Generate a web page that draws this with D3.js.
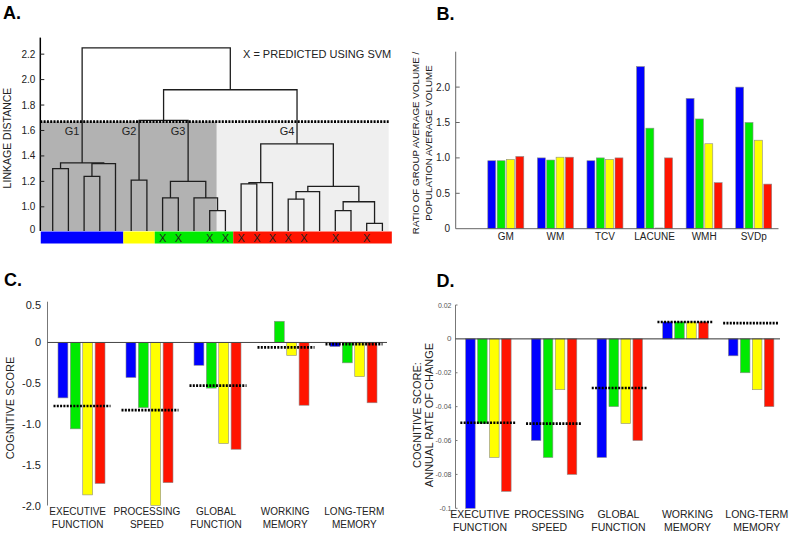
<!DOCTYPE html>
<html><head><meta charset="utf-8">
<script src="https://cdn.jsdelivr.net/npm/d3@7"></script>
<style>body{margin:0;background:#fff} svg{display:block;font-family:"Liberation Sans",Arial,Helvetica,sans-serif}</style>
</head><body><svg id="c" width="789" height="533"></svg>
<script>
// ================= DATA =================
const seriesNames = ["blue","green","yellow","red"];
const seriesColors = ["#0000ff","#00ea00","#ffff00","#ff1400"];

// Panel A: hierarchical clustering dendrogram
const clusterNames = ["G1","G2","G3","G4"];
const clusterLeafCounts = [5,2,5,10];
const clusterColors = ["#0000ff","#ffff00","#00ea00","#ff1400"];
const svmPredictedLeaves = [7,8,10,11,12,13,14,15,16,18,20];
const leafBaseline = 0.81;
// merges: [left node, right node, linkage distance]; leaves are 0..21, merges numbered from 22
const merges = [
  [0,1,1.30],[2,3,1.24],[23,4,1.34],[22,24,1.345],      // G1 -> node 25
  [5,6,1.21],                                           // G2 -> node 26
  [7,8,1.07],[10,11,0.97],[9,28,1.07],[27,29,1.20],     // G3 -> node 30
  [12,13,1.18],[31,14,1.19],[15,16,1.06],[33,17,1.12],
  [18,19,0.97],[20,21,0.87],[35,36,1.04],[34,37,1.16],[32,38,1.495], // G4 -> node 39
  [26,30,1.68],[40,39,1.92],[25,41,2.25]
];
const clusterTopNodes = [25,26,30,39];
const cutHeight = 1.67;
const darkShadeEndLeaf = 10.45;
const linkTicks = [1.0,1.2,1.4,1.6,1.8,2.0,2.2];
const linkTickLabels = ["1.0","1.2","1.4","1.6","1.8","2.0","2.2"];

// Panel B: volume ratios
const volCats = ["GM","WM","TCV","LACUNE","WMH","SVDp"];
const volBlue   = [0.96,1.00,0.96,2.29,1.84,2.00];
const volGreen  = [0.96,0.97,1.00,1.42,1.55,1.50];
const volYellow = [0.98,1.01,0.98,0.01,1.20,1.25];
const volRed    = [1.02,1.01,1.00,1.00,0.65,0.63];
const volTicks = [0,0.5,1.0,1.5,2.0];
const volTickLabels = ["0","0.5","1.0","1.5","2.0"];

// Panel C: cognitive scores
const cogCats = [["EXECUTIVE","FUNCTION"],["PROCESSING","SPEED"],["GLOBAL","FUNCTION"],["WORKING","MEMORY"],["LONG-TERM","MEMORY"]];
const cogBlue   = [-0.68,-0.43,-0.28,0.00,-0.05];
const cogGreen  = [-1.06,-0.80,-0.56,0.26,-0.25];
const cogYellow = [-1.87,-2.00,-1.24,-0.16,-0.42];
const cogRed    = [-1.73,-1.72,-1.31,-0.77,-0.74];
const cogMean   = [-0.78,-0.83,-0.53,-0.06,-0.02];
const cogTicks = [0.5,0,-0.5,-1.0,-1.5,-2.0];
const cogTickLabels = ["0.5","0","-0.5","-1.0","-1.5","-2.0"];

// Panel D: annual rate of change
const rateBlue   = [-0.10,-0.06,-0.07,0.01,-0.01];
const rateGreen  = [-0.05,-0.07,-0.04,0.01,-0.02];
const rateYellow = [-0.07,-0.03,-0.05,0.01,-0.03];
const rateRed    = [-0.09,-0.08,-0.06,0.01,-0.04];
const rateMean   = [-0.0495,-0.05,-0.029,0.01,0.0093];
const rateTicks = [0.02,0,-0.02,-0.04,-0.06,-0.08,-0.1];
const rateTickLabels = ["0.02","0","-0.02","-0.04","-0.06","-0.08","-0.1"];

// ================= DRAW =================
const svg = d3.select("#c");
function panelLetter(t,x,y){svg.append("text").attr("x",x).attr("y",y).attr("font-size",18).attr("font-weight","bold").text(t);}

// ---------- Panel A ----------
(function(){
  const g = svg.append("g");
  const nLeaves = d3.sum(clusterLeafCounts);
  const xL = d3.scaleLinear().domain([0,nLeaves-1]).range([52.7,382.4]);
  const y = d3.scaleLinear().domain([leafBaseline,2.33]).range([231,37.6]);
  const axX = 40.3;
  // shading
  g.append("rect").attr("x",axX).attr("y",y(cutHeight)).attr("width",xL(darkShadeEndLeaf)-axX)
    .attr("height",y(leafBaseline)-y(cutHeight)).attr("fill","#b2b2b2");
  g.append("rect").attr("x",xL(darkShadeEndLeaf)).attr("y",y(cutHeight)).attr("width",xL(21.4)-xL(darkShadeEndLeaf))
    .attr("height",y(leafBaseline)-y(cutHeight)).attr("fill","#efefef");
  // nodes
  const nodes = d3.range(nLeaves).map(i=>({x:xL(i),h:leafBaseline}));
  merges.forEach(([a,b,h])=>{
    const A=nodes[a],B=nodes[b];
    g.append("path").attr("d",`M${A.x},${y(A.h)}V${y(h)}H${B.x}V${y(B.h)}`)
      .attr("fill","none").attr("stroke","#1e1e1e").attr("stroke-width",1.3);
    nodes.push({x:(A.x+B.x)/2,h:h});
  });
  // cut line
  g.append("line").attr("x1",axX).attr("x2",xL(21.4)).attr("y1",y(cutHeight)).attr("y2",y(cutHeight))
    .attr("stroke","#000").attr("stroke-width",2.6).attr("stroke-dasharray","2,1.3");
  // cluster labels
  clusterTopNodes.forEach((n,i)=>{
    g.append("text").attr("x",nodes[n].x-10).attr("y",y(cutHeight)+13).attr("text-anchor","middle")
      .attr("font-size",11).attr("fill","#222").text(clusterNames[i]);
  });
  // colour bar
  let start=0;
  clusterLeafCounts.forEach((c,i)=>{
    const a = i===0 ? xL(-0.76) : xL(start-0.5);
    const b = i===clusterLeafCounts.length-1 ? xL(start+c-1+0.6) : xL(start+c-0.5);
    g.append("rect").attr("x",a).attr("y",231.5).attr("width",b-a).attr("height",12).attr("fill",clusterColors[i]);
    start+=c;
  });
  svmPredictedLeaves.forEach(i=>{
    g.append("text").attr("x",xL(i)).attr("y",241.5).attr("text-anchor","middle").attr("font-size",11)
      .attr("fill","#222").text("X");
  });
  // axis
  g.append("line").attr("x1",axX).attr("x2",axX).attr("y1",37.6).attr("y2",231).attr("stroke","#000").attr("stroke-width",1.5);
  linkTicks.forEach((v,i)=>{
    g.append("line").attr("x1",axX).attr("x2",axX+4).attr("y1",y(v)).attr("y2",y(v)).attr("stroke","#222");
    g.append("text").attr("x",axX-5).attr("y",y(v)+3.5).attr("text-anchor","end").attr("font-size",10).attr("fill","#222").text(linkTickLabels[i]);
  });
  g.append("text").attr("x",axX-5).attr("y",y(0.825)+3.5).attr("text-anchor","end").attr("font-size",10).attr("fill","#222").text("0");
  g.append("text").attr("transform","translate(11,138) rotate(-90)").attr("text-anchor","middle").attr("font-size",10.5).attr("fill","#222").text("LINKAGE DISTANCE");
  g.append("text").attr("x",243).attr("y",58).attr("font-size",11).attr("fill","#222").text("X = PREDICTED USING SVM");
  panelLetter("A.",3,18.5);
})();

// generic grouped bar helper
function groupedBars(g, n, series, x0, inner, y){
  series.forEach((vals,s)=>{
    vals.forEach((v,i)=>{
      const x = x0(i)+inner(seriesNames[s]);
      g.append("rect").attr("x",x).attr("width",inner.bandwidth())
        .attr("y",Math.min(y(v),y(0))).attr("height",Math.abs(y(v)-y(0)))
        .attr("fill",seriesColors[s]).attr("stroke","#8c8c8c").attr("stroke-width",0.6);
    });
  });
}

// ---------- Panel B ----------
(function(){
  const g = svg.append("g");
  const x0 = d3.scaleBand().domain(d3.range(volCats.length)).range([481,778.5]);
  const inner = d3.scaleBand().domain(seriesNames).range([0,36]).paddingInner(0.15);
  const xs = i=>x0(i)+(x0.bandwidth()-36)/2;
  const y = d3.scaleLinear().domain([0,2.5]).range([228.7,51.7]);
  groupedBars(g, volCats.length, [volBlue,volGreen,volYellow,volRed], xs, inner, y);
  g.append("line").attr("x1",455.7).attr("x2",455.7).attr("y1",51.7).attr("y2",228.7).attr("stroke","#666").attr("stroke-width",1);
  g.append("line").attr("x1",455.7).attr("x2",778.5).attr("y1",228.7).attr("y2",228.7).attr("stroke","#666").attr("stroke-width",1);
  volTicks.forEach((v,i)=>{
    if(v!==0) g.append("line").attr("x1",455.7).attr("x2",459.7).attr("y1",y(v)).attr("y2",y(v)).attr("stroke","#666");
    g.append("text").attr("x",450).attr("y",y(v)+3.5).attr("text-anchor","end").attr("font-size",10).attr("fill","#222").text(volTickLabels[i]);
  });
  volCats.forEach((c,i)=>{
    g.append("text").attr("x",x0(i)+x0.bandwidth()/2).attr("y",240).attr("text-anchor","middle").attr("font-size",10).attr("fill","#222").text(c);
  });
  const t = g.append("text").attr("transform","translate(0,143) rotate(-90)").attr("text-anchor","middle").attr("font-size",9.8).attr("fill","#222");
  t.append("tspan").attr("x",0).attr("y",419).text("RATIO OF GROUP AVERAGE VOLUME /");
  t.append("tspan").attr("x",0).attr("y",432).text("POPULATION AVERAGE VOLUME");
  panelLetter("B.",436.5,19.5);
})();

// ---------- Panel C ----------
(function(){
  const g = svg.append("g");
  const x0 = d3.scaleBand().domain(d3.range(cogCats.length)).range([47.5,387.5]);
  const inner = d3.scaleBand().domain(seriesNames).range([0,47]).paddingInner(0.2);
  const xs = i=>x0(i)+(x0.bandwidth()-47)/2;
  const xl = d3.scalePoint().domain(d3.range(cogCats.length)).range([77.7,354.3]);
  const y = d3.scaleLinear().domain([-2,0.5]).range([505.5,301.7]);
  groupedBars(g, cogCats.length, [cogBlue,cogGreen,cogYellow,cogRed], xs, inner, y);
  g.append("line").attr("x1",47.5).attr("x2",47.5).attr("y1",301.7).attr("y2",505.5).attr("stroke","#777");
  g.append("line").attr("x1",47.5).attr("x2",387).attr("y1",y(0)).attr("y2",y(0)).attr("stroke","#444").attr("stroke-width",1);
  cogMean.forEach((m,i)=>{
    const c = x0(i)+x0.bandwidth()/2;
    g.append("line").attr("x1",c-28).attr("x2",c+29).attr("y1",y(m)).attr("y2",y(m))
      .attr("stroke","#000").attr("stroke-width",2.6).attr("stroke-dasharray","2,1.3");
  });
  cogTicks.forEach((v,i)=>{
    g.append("text").attr("x",41).attr("y",Math.max(y(v),305)+4).attr("text-anchor","end").attr("font-size",11).attr("fill","#222").text(cogTickLabels[i]);
  });
  cogCats.forEach((c,i)=>{
    c.forEach((line,k)=>g.append("text").attr("x",xl(i)).attr("y",515+k*12.5).attr("text-anchor","middle").attr("font-size",10).attr("fill","#222").text(line));
  });
  g.append("text").attr("transform","translate(14,408) rotate(-90)").attr("text-anchor","middle").attr("font-size",11).attr("fill","#222").text("COGNITIVE SCORE");
  panelLetter("C.",4,285.5);
})();

// ---------- Panel D ----------
(function(){
  const g = svg.append("g");
  const x0 = d3.scaleBand().domain(d3.range(cogCats.length)).range([455.5,784]);
  const inner = d3.scaleBand().domain(seriesNames).range([0,45.5]).paddingInner(0.2);
  const xs = i=>x0(i)+(x0.bandwidth()-45.5)/2;
  const xl = d3.scalePoint().domain(d3.range(cogCats.length)).range([480,756.8]);
  const y = d3.scaleLinear().domain([-0.1,0.02]).range([508.3,305]);
  groupedBars(g, cogCats.length, [rateBlue,rateGreen,rateYellow,rateRed], xs, inner, y);
  g.append("line").attr("x1",455.5).attr("x2",455.5).attr("y1",305).attr("y2",508.3).attr("stroke","#777");
  g.append("line").attr("x1",455.5).attr("x2",780).attr("y1",y(0)).attr("y2",y(0)).attr("stroke","#333").attr("stroke-width",1);
  rateMean.forEach((m,i)=>{
    const c = x0(i)+x0.bandwidth()/2;
    g.append("line").attr("x1",Math.max(455.5,c-28)).attr("x2",c+28).attr("y1",y(m)).attr("y2",y(m))
      .attr("stroke","#000").attr("stroke-width",2.6).attr("stroke-dasharray","2,1.3");
  });
  rateTicks.forEach((v,i)=>{
    if(v!==0) g.append("line").attr("x1",455.5).attr("x2",457.5).attr("y1",y(v)).attr("y2",y(v)).attr("stroke","#777");
    g.append("text").attr("x",451.5).attr("y",y(v)+2.5).attr("text-anchor","end").attr("font-size",v===0?8:7).attr("fill","#555").text(rateTickLabels[i]);
  });
  cogCats.forEach((c,i)=>{
    c.forEach((line,k)=>g.append("text").attr("x",xl(i)).attr("y",518+k*12.7).attr("text-anchor","middle").attr("font-size",10.5).attr("fill","#222").text(line));
  });
  const t = g.append("text").attr("transform","translate(0,415) rotate(-90)").attr("text-anchor","middle").attr("font-size",11).attr("fill","#222");
  t.append("tspan").attr("x",0).attr("y",420.5).text("COGNITIVE SCORE:");
  t.append("tspan").attr("x",0).attr("y",432.5).text("ANNUAL RATE OF CHANGE");
  panelLetter("D.",436.5,287);
})();
</script></body></html>
